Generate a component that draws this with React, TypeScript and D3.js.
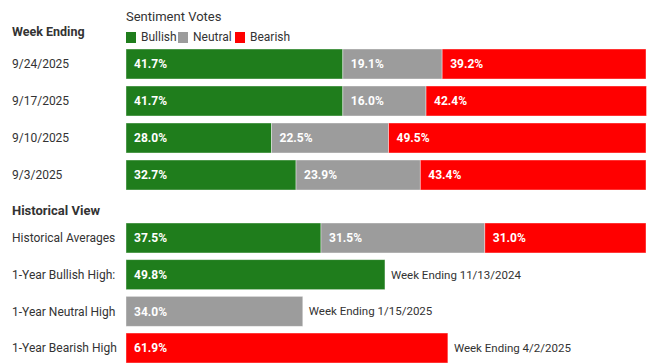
import React, { useEffect, useRef } from "react";
import * as d3 from "d3";

const weeks = ["9/24/2025", "9/17/2025", "9/10/2025", "9/3/2025"];
const bullish = [41.7, 41.7, 28.0, 32.7];
const neutral = [19.1, 16.0, 22.5, 23.9];
const bearish = [39.2, 42.4, 49.5, 43.4];

const histAvg = [37.5, 31.5, 31.0];
const highLabels = ["1-Year Bullish High:", "1-Year Neutral High", "1-Year Bearish High"];
const highValues = [49.8, 34.0, 61.9];
const highWeeks = ["Week Ending 11/13/2024", "Week Ending 1/15/2025", "Week Ending 4/2/2025"];

const seriesNames = ["Bullish", "Neutral", "Bearish"];
const colors = ["#1f7d1c", "#9c9c9c", "#ff0000"];

export default function App() {
  const ref = useRef<SVGSVGElement>(null);

  useEffect(() => {
    const svg = d3.select(ref.current);
    svg.selectAll("*").remove();
    const font = "Roboto, sans-serif";

    const x = d3.scaleLinear().domain([0, 100]).range([126, 646]);
    const yWeek = d3.scaleBand().domain(weeks).range([49, 190]).paddingInner(7 / 37);
    const histRows = ["Historical Averages", ...highLabels];
    const yHist = d3.scaleBand().domain(histRows).range([223, 363]).paddingInner(6.7 / 36.7);

    // headers
    svg.append("text").attr("x", 126).attr("y", 21).text("Sentiment Votes")
      .attr("font-family", font).attr("font-size", 13).attr("fill", "#333");
    svg.append("text").attr("x", 12).attr("y", 36).text("Week Ending")
      .attr("font-family", font).attr("font-size", 12.5).attr("font-weight", "bold").attr("fill", "#333");
    svg.append("text").attr("x", 12).attr("y", 215).text("Historical View")
      .attr("font-family", font).attr("font-size", 13).attr("font-weight", "bold").attr("fill", "#333");

    // legend
    const legendX = [126, 178, 235];
    seriesNames.forEach((n, i) => {
      svg.append("rect").attr("x", legendX[i]).attr("y", 32).attr("width", 10).attr("height", 11).attr("fill", colors[i]);
      svg.append("text").attr("x", legendX[i] + 15).attr("y", 41).text(n)
        .attr("font-family", font).attr("font-size", 12).attr("fill", "#333");
    });

    const stacked = (g: any, y: number, h: number, vals: number[]) => {
      let acc = 0;
      vals.forEach((v, i) => {
        g.append("rect").attr("x", x(acc)).attr("y", y).attr("width", x(acc + v) - x(acc)).attr("height", h)
          .attr("fill", colors[i]).attr("stroke", "#fff").attr("stroke-opacity", 0.5).attr("stroke-width", 0.8);
        g.append("text").attr("x", x(acc) + 8).attr("y", y + h / 2).attr("dy", "0.35em")
          .text(v.toFixed(1) + "%").attr("font-family", font).attr("font-size", 12)
          .attr("font-weight", "bold").attr("fill", "#fff");
        acc += v;
      });
    };

    const rowLabel = (label: string, y: number) => {
      svg.append("text").attr("x", 12).attr("y", y).attr("dy", "0.35em").text(label)
        .attr("font-family", font).attr("font-size", 12).attr("fill", "#333");
    };

    weeks.forEach((w, i) => {
      const y = yWeek(w)!;
      rowLabel(w, y + yWeek.bandwidth() / 2);
      stacked(svg, y, yWeek.bandwidth(), [bullish[i], neutral[i], bearish[i]]);
    });

    const ya = yHist("Historical Averages")!;
    rowLabel("Historical Averages", ya + yHist.bandwidth() / 2);
    stacked(svg, ya, yHist.bandwidth(), histAvg);

    highLabels.forEach((l, i) => {
      const y = yHist(l)!;
      const h = yHist.bandwidth();
      rowLabel(l, y + h / 2);
      svg.append("rect").attr("x", x(0)).attr("y", y).attr("width", x(highValues[i]) - x(0)).attr("height", h)
        .attr("fill", colors[i]).attr("stroke", "#fff").attr("stroke-opacity", 0.5).attr("stroke-width", 0.8);
      svg.append("text").attr("x", x(0) + 8).attr("y", y + h / 2).attr("dy", "0.35em")
        .text(highValues[i].toFixed(1) + "%").attr("font-family", font).attr("font-size", 12)
        .attr("font-weight", "bold").attr("fill", "#fff");
      svg.append("text").attr("x", x(highValues[i]) + 6).attr("y", y + h / 2).attr("dy", "0.35em")
        .text(highWeeks[i]).attr("font-family", font).attr("font-size", 11.5).attr("fill", "#333");
    });
  }, []);

  return (
    <svg ref={ref} width={660} height={364}
      style={{ position: "absolute", left: 0, top: 0, background: "#fff" }} />
  );
}
